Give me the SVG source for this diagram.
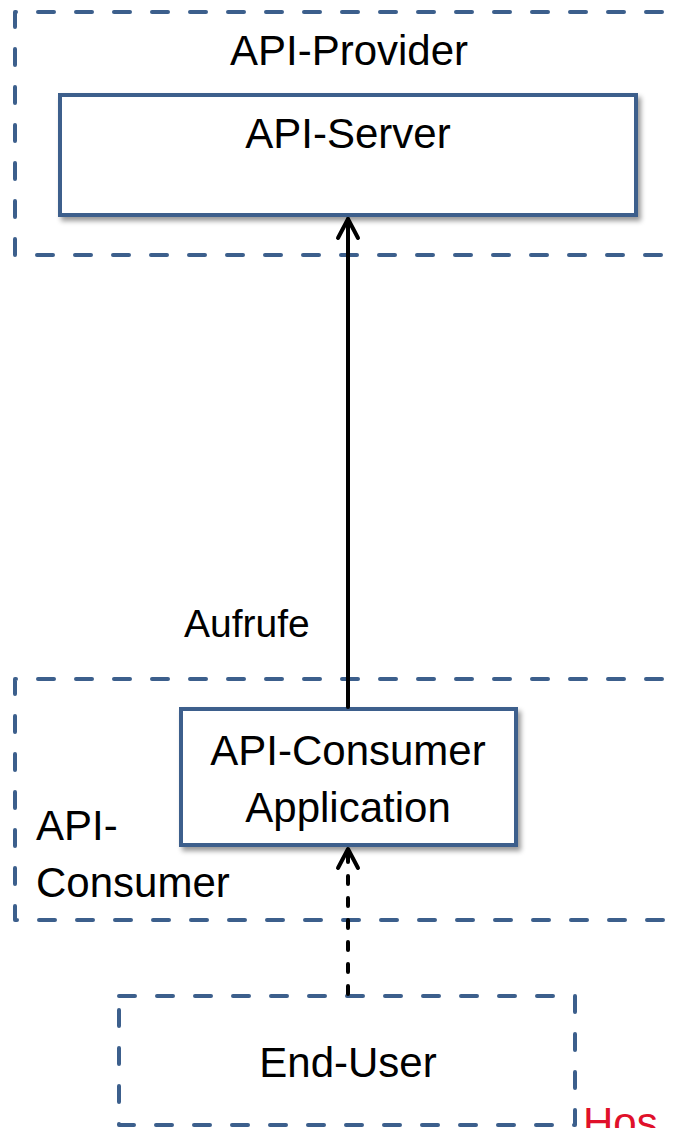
<svg xmlns="http://www.w3.org/2000/svg" width="678" height="1128" viewBox="0 0 678 1128">
<style>
.group{fill:none;stroke:#3C5F8C;stroke-width:4;stroke-dasharray:16 22;stroke-linecap:round;stroke-linejoin:round}
.box{fill:#fff;stroke:#3C5F8C;stroke-width:4}
.t{font-family:"Liberation Sans",Arial,sans-serif;font-size:42px;fill:#000}
.c{text-anchor:middle}
.conn{fill:none;stroke:#000;stroke-width:4;stroke-linecap:round}
</style>
<defs>
<filter id="sh" x="-10%" y="-10%" width="120%" height="130%">
<feDropShadow dx="3" dy="4" stdDeviation="2.5" flood-color="#000" flood-opacity="0.4"/>
</filter>
<marker id="arr" markerUnits="userSpaceOnUse" viewBox="-24 -14 28 28" refX="0" refY="0" markerWidth="28" markerHeight="28" orient="auto">
<path d="M-19,-10 L0,0 L-19,10" fill="none" stroke="#000" stroke-width="4" stroke-linecap="round" stroke-linejoin="round" stroke-dasharray="none"/>
</marker>
</defs>
<g id="api-provider">
<path class="group" d="M700,12 H15 V255 H700"/>
<text class="t c" x="349" y="65">API-Provider</text>
</g>
<g id="api-server">
<rect class="box" x="60" y="95" width="576" height="120" filter="url(#sh)"/>
<text class="t c" x="348" y="148">API-Server</text>
</g>
<g id="api-consumer">
<path class="group" d="M700,679 H15 V920 H700"/>
<text class="t" x="36" y="840">API-</text>
<text class="t" x="36" y="897">Consumer</text>
</g>
<g id="api-consumer-application">
<rect class="box" x="181" y="709" width="335" height="136" filter="url(#sh)"/>
<text class="t c" x="348" y="765">API-Consumer</text>
<text class="t c" x="348" y="822">Application</text>
</g>
<g id="end-user">
<rect class="group" x="119" y="996" width="456" height="129"/>
<text class="t c" x="348" y="1077">End-User</text>
</g>
<g id="connectors">
<path class="conn" d="M348,707 V219" marker-end="url(#arr)"/>
<text class="t" x="184" y="637" style="font-size:39px">Aufrufe</text>
<path class="conn" d="M348,994 V849" stroke-dasharray="8 14" marker-end="url(#arr)"/>
</g>
<text x="583" y="1137" style="font-family:'Liberation Sans',Arial,sans-serif;font-size:42px;fill:#E0102A;font-weight:300">Hos</text>
</svg>
